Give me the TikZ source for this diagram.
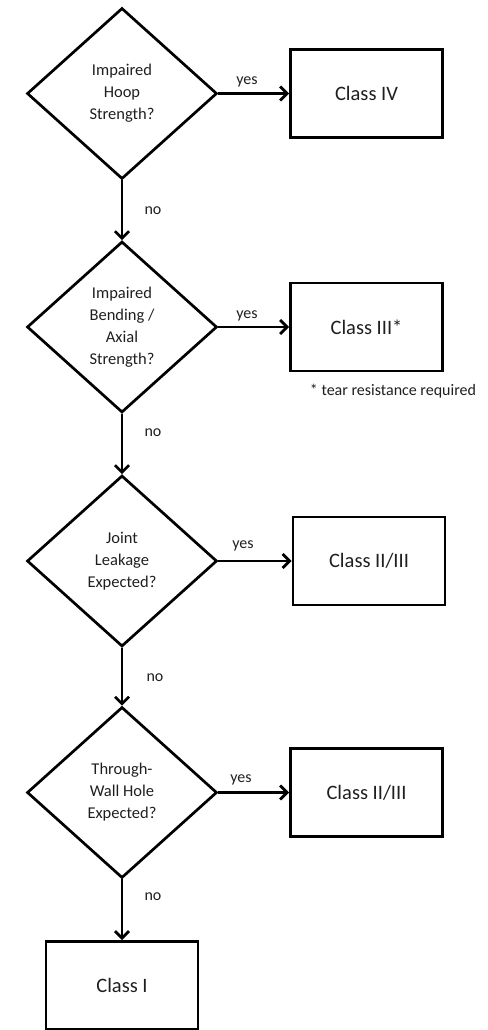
\documentclass[tikz,border=0pt]{standalone}
\usepackage{fontspec}
\setmainfont{Carlito}
\usetikzlibrary{shapes.geometric,arrows.meta}
\begin{document}
\begin{tikzpicture}[x=1pt,y=-1pt,
  dec/.style={draw, line width=2.7pt, shape=diamond, inner sep=0pt, aspect=1.1,
    minimum width=190pt, minimum height=171pt, align=center,
    font=\fontsize{16.5}{22}\selectfont, text=black!88},
  cls/.style={draw, line width=2.9pt, rectangle, minimum width=152pt, minimum height=88pt,
    font=\fontsize{20.5}{24}\selectfont, text=black!88},
  arr/.style={line width=2.7pt, -{Straight Barb[length=7pt,width=14pt]}},
  lbl/.style={inner sep=0pt, anchor=mid, font=\fontsize{16}{19}\selectfont, text=black!88}]
\useasboundingbox (0,0) rectangle (487,1030);
\node[dec] (d1) at (122,93.5) {Impaired\\Hoop\\Strength?};
\node[dec] (d2) at (122,327) {Impaired\\Bending /\\Axial\\Strength?};
\node[dec] (d3) at (122,561) {Joint\\Leakage\\Expected?};
\node[dec] (d4) at (122,792.5) {Through-\\Wall Hole\\Expected?};
\node[cls] (b1) at (366.5,93.5) {Class IV};
\node[cls] (b2) at (366.5,327) {Class III*};
\node[cls] (b3) at (369,561) {Class II/III};
\node[cls] (b4) at (366.5,792.5) {Class II/III};
\node[cls] (b5) at (122,985.5) {Class I};
\node[lbl] (note) at (393,393) {* tear resistance required};
\draw[arr] (d1.east) -- (b1.west);
\draw[arr] (d2.east) -- (b2.west);
\draw[arr] (d3.east) -- (b3.west);
\draw[arr] (d4.east) -- (b4.west);
\draw[arr] (d1.south) -- (d2.north);
\draw[arr] (d2.south) -- (d3.north);
\draw[arr] (d3.south) -- (d4.north);
\draw[arr] (d4.south) -- (b5.north);
\node[lbl] (y1) at (247,82) {yes};
\node[lbl] (y2) at (247,316) {yes};
\node[lbl] (y3) at (243,546) {yes};
\node[lbl] (y4) at (241,780) {yes};
\node[lbl] (n1) at (153,212) {no};
\node[lbl] (n2) at (153,434) {no};
\node[lbl] (n3) at (155,679) {no};
\node[lbl] (n4) at (153,898) {no};
\end{tikzpicture}
\end{document}
